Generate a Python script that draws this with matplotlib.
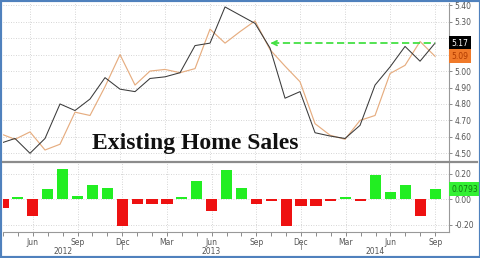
import matplotlib
matplotlib.use("Agg")
import matplotlib.pyplot as plt
from matplotlib.lines import Line2D
from matplotlib.patches import Rectangle
import matplotlib.transforms as mtransforms

# monthly points, Apr 2012 .. Sep 2014
MONTHS = ["Apr", "May", "Jun", "Jul", "Aug", "Sep", "Oct", "Nov", "Dec",
          "Jan", "Feb", "Mar", "Apr", "May", "Jun", "Jul", "Aug", "Sep", "Oct", "Nov", "Dec",
          "Jan", "Feb", "Mar", "Apr", "May", "Jun", "Jul", "Aug", "Sep"]
SALES = [4.56, 4.59, 4.50, 4.59, 4.80, 4.76, 4.83, 4.96, 4.89,
         4.875, 4.955, 4.965, 4.99, 5.155, 5.17, 5.39, 5.34, 5.29, 5.14, 4.835, 4.875,
         4.625, 4.605, 4.59, 4.67, 4.915, 5.025, 5.15, 5.06, 5.17]
EXPECTED = [4.62, 4.585, 4.63, 4.52, 4.555, 4.75, 4.73, 4.905, 5.10,
            4.915, 5.00, 5.01, 4.99, 5.015, 5.255, 5.17, 5.24, 5.305, 5.13, 5.03, 4.935,
            4.68, 4.61, 4.585, 4.70, 4.73, 4.985, 5.035, 5.18, 5.09]
DIFF = [-0.07, 0.02, -0.13, 0.08, 0.24, 0.025, 0.11, 0.09, -0.21,
        -0.035, -0.04, -0.04, 0.015, 0.14, -0.09, 0.23, 0.086, -0.037, -0.01, -0.21, -0.052,
        -0.052, -0.012, 0.02, -0.016, 0.19, 0.057, 0.11, -0.13, 0.0793]
TOP_TICKS = [4.50, 4.60, 4.70, 4.80, 4.90, 5.00, 5.10, 5.20, 5.30, 5.40]
HIDDEN_TICKS = [5.10, 5.20]  # covered by the last-value boxes
BOT_TICKS = [-0.20, 0.00, 0.20]
YEARS = [("2012", 4.0), ("2013", 14.0), ("2014", 25.0)]
YEAR_BREAKS = [8, 20]
ARROW_END = 17.85

W, H = 481, 258
GRID = dict(color="#c8c8c8", linewidth=0.6, linestyle=(0, (1, 2)))
TICK_COLOR = "#555555"

fig = plt.figure(figsize=(W / 100, H / 100), dpi=100)
ax1 = fig.add_axes([3 / W, 96 / H, 446 / W, 159 / H])
ax2 = fig.add_axes([3 / W, 26 / H, 446 / W, 70 / H])

x = list(range(len(MONTHS)))
quarters = [i for i, m in enumerate(MONTHS) if m in ("Mar", "Jun", "Sep", "Dec")]

for ax in (ax1, ax2):
    ax.set_xlim(0.2, 29.93)
    for s in ("left", "top"):
        ax.spines[s].set_visible(False)
    ax.spines["right"].set_color("#999999")
    ax.spines["right"].set_linewidth(0.8)
    ax.yaxis.tick_right()
    ax.tick_params(axis="y", direction="out", length=2, width=0.6, colors="#777777",
                   labelsize=5.5, labelcolor=TICK_COLOR, pad=2)
    ax.set_xticks(quarters)
    ax.grid(True, **GRID)
    ax.set_axisbelow(True)

# top panel
ax1.spines["bottom"].set_visible(False)
ax1.set_ylim(4.447, 5.414)
ax1.set_yticks(TOP_TICKS)
ax1.set_yticklabels(["" if v in HIDDEN_TICKS else f"{v:.2f}" for v in TOP_TICKS])
ax1.tick_params(axis="x", length=0, labelbottom=False)
ax1.plot(x, EXPECTED, color="#e6ad80", linewidth=0.85)
ax1.plot(x, SALES, color="#3a3a3a", linewidth=0.75)

last = len(x) - 1
ax1.plot([ARROW_END + 0.3, x[last]], [SALES[last], SALES[last]], color="#44e044",
         linewidth=1.3, linestyle=(0, (4, 2)))
ax1.annotate("", xy=(ARROW_END, SALES[last]), xytext=(ARROW_END + 0.6, SALES[last]),
             arrowprops=dict(arrowstyle="->", color="#44e044", lw=1.3,
                             mutation_scale=8))

ax1.text(1.006, SALES[last], f"{SALES[last]:.2f}", transform=ax1.get_yaxis_transform(),
         ha="left", va="center", fontsize=5.5, color="white", zorder=10, clip_on=False,
         bbox=dict(boxstyle="square,pad=0.3", fc="black", ec="none"))
ax1.text(1.006, EXPECTED[last], f"{EXPECTED[last]:.2f}", transform=ax1.get_yaxis_transform(),
         ha="left", va="center", fontsize=5.5, color="#b03a00", zorder=10, clip_on=False,
         bbox=dict(boxstyle="square,pad=0.3", fc="#f07a2a", ec="none"))

fig.text(195 / W, 1 - 143 / H, "Existing Home Sales", ha="center", va="center",
         fontsize=17, fontweight="bold", family="Liberation Serif", color="#111111")

# bottom panel
ax2.set_ylim(-0.255, 0.291)
ax2.set_yticks(BOT_TICKS)
ax2.set_yticklabels([f"{v:.2f}" for v in BOT_TICKS])
colors = ["#22ee22" if v >= 0 else "#ee1111" for v in DIFF]
ax2.bar(x, DIFF, width=0.75, color=colors, zorder=3)
ax2.spines["bottom"].set_color("#999999")
ax2.spines["bottom"].set_linewidth(0.8)
ax2.set_xticks(x, minor=True)
ax2.set_xticklabels([MONTHS[i] for i in quarters])
ax2.tick_params(axis="x", which="both", direction="out", length=3, width=0.6,
                colors="#777777", labelsize=5.5, labelcolor=TICK_COLOR, pad=1.5)
ax2.text(1.006, DIFF[last], f"{DIFF[last]:.4f}", transform=ax2.get_yaxis_transform(),
         ha="left", va="center", fontsize=5.5, color="#117711", zorder=10, clip_on=False,
         bbox=dict(boxstyle="square,pad=0.3", fc="#33f033", ec="none"))

trans = mtransforms.blended_transform_factory(ax2.transData, ax2.transAxes)
for label, pos in YEARS:
    ax2.text(pos, -0.285, label, transform=trans, ha="center", va="center",
             fontsize=5.5, color=TICK_COLOR)
for b in YEAR_BREAKS:
    ax2.add_line(Line2D([b, b], [-0.15, -0.24], transform=trans, color="#888888",
                        linewidth=0.6, clip_on=False))

# panel separator and frame
fig.add_artist(Line2D([3 / W, 477 / W], [96 / H, 96 / H], color="#8c8c8c", linewidth=1.6))
fig.add_artist(Rectangle((0, 0), 1, 1, transform=fig.transFigure, fill=False,
                         edgecolor="#4f81bd", linewidth=3))

fig.savefig("out.png", dpi=100)
